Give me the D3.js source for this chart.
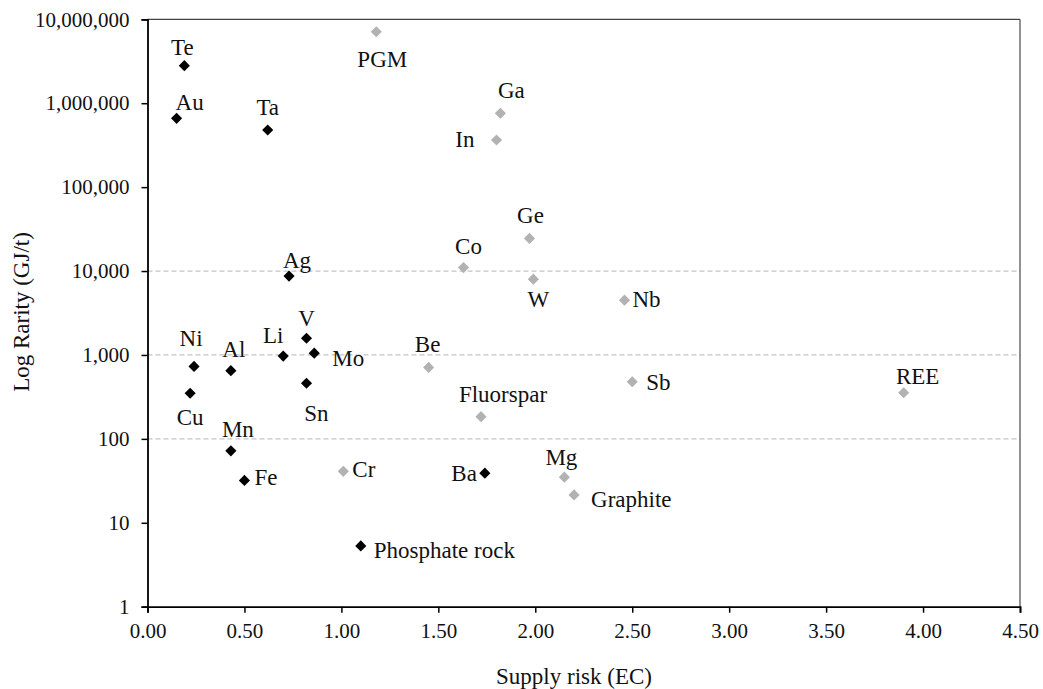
<!DOCTYPE html>
<html>
<head>
<meta charset="utf-8">
<script src="https://cdn.jsdelivr.net/npm/d3@7"></script>
<style>
  body { margin: 0; background: #fff; }
  text { font-family: "Liberation Serif", "Times New Roman", serif; }
</style>
</head>
<body>
<div id="chart"></div>
<script>
// Raw materials: supply risk vs rarity
var names = ["Te", "Au", "Ta", "Ag", "Ni", "Al", "Cu", "Li", "V", "Mo", "Sn", "Mn", "Fe", "Ba", "Phosphate rock",
  "PGM", "Ga", "In", "Ge", "Co", "W", "Nb", "Be", "Sb", "Fluorspar", "REE", "Cr", "Mg", "Graphite"];
var supplyRisk = [0.19, 0.15, 0.62, 0.73, 0.24, 0.43, 0.22, 0.70, 0.82, 0.86, 0.82, 0.43, 0.50, 1.74, 1.10,
  1.18, 1.82, 1.80, 1.97, 1.63, 1.99, 2.46, 1.45, 2.50, 1.72, 3.90, 1.01, 2.15, 2.20];
var rarity = [2800000, 660000, 480000, 8700, 730, 650, 350, 970, 1580, 1050, 460, 72, 32, 39, 5.3,
  7100000, 760000, 365000, 24500, 11000, 8000, 4500, 710, 480, 184, 355, 41, 35, 21.5];
var group = ["a", "a", "a", "a", "a", "a", "a", "a", "a", "a", "a", "a", "a", "a", "a",
  "b", "b", "b", "b", "b", "b", "b", "b", "b", "b", "b", "b", "b", "b"];
var yTicks = [1, 10, 100, 1000, 10000, 100000, 1000000, 10000000];
var xTicks = [0, 0.5, 1, 1.5, 2, 2.5, 3, 3.5, 4, 4.5];
var gridValues = [100, 1000, 10000];

// label placement next to each marker: [dx, dy, anchor]
var labelPlacement = [
  [-2, -11, "middle"], [13, -8, "middle"], [0, -15, "middle"], [8, -8, "middle"], [-3, -20, "middle"],
  [3, -14, "middle"], [0, 32, "middle"], [-10, -13, "middle"], [0, -12, "middle"], [18, 13, "start"],
  [10, 38, "middle"], [7, -14, "middle"], [10, 5, "start"], [-8, 8, "end"], [13, 12, "start"],
  [6, 35, "middle"], [11, -15, "middle"], [-22, 7, "end"], [1, -15, "middle"], [5, -14, "middle"],
  [5, 28, "middle"], [8, 7, "start"], [-1, -15, "middle"], [14, 8, "start"], [22, -15, "middle"],
  [14, -9, "middle"], [9, 6, "start"], [-3, -12, "middle"], [17, 12, "start"]
];

var colors = { a: "#000000", b: "#b2b2b2" };

var width = 1043, height = 689;
var margin = { top: 19.3, right: 23, bottom: 82.3, left: 147.5 };
var w = width - margin.left - margin.right;
var h = height - margin.top - margin.bottom;

var svg = d3.select("#chart").append("svg")
  .attr("width", width)
  .attr("height", height);

var g = svg.append("g")
  .attr("transform", `translate(${margin.left}, ${margin.top})`);

var x = d3.scaleLinear().domain([0, 4.5]).range([0, w]);
var y = d3.scaleLog().domain([1, 10000000]).range([h, 0]);

// dashed reference lines
g.selectAll(".grid")
  .data(gridValues)
  .enter()
  .append("line")
  .attr("x1", 0)
  .attr("x2", w)
  .attr("y1", d => y(d))
  .attr("y2", d => y(d))
  .attr("stroke", "#c4c4c4")
  .attr("stroke-width", 1.2)
  .attr("stroke-dasharray", "5,3");

// top and right frame
g.append("line").attr("x1", 0).attr("x2", w).attr("y1", 0).attr("y2", 0)
  .attr("stroke", "#444").attr("stroke-width", 1.3);
g.append("line").attr("x1", w).attr("x2", w).attr("y1", 0).attr("y2", h)
  .attr("stroke", "#555").attr("stroke-width", 1.3);

var bottomAxis = d3.axisBottom(x).tickValues(xTicks).tickFormat(d3.format(".2f")).tickSize(6).tickPadding(10);
var leftAxis = d3.axisLeft(y).tickValues(yTicks).tickFormat(d3.format(",")).tickSize(6).tickPadding(12);

var xAxisG = g.append("g")
  .attr("transform", `translate(0, ${h})`)
  .call(bottomAxis);

var yAxisG = g.append("g")
  .call(leftAxis);

[xAxisG, yAxisG].forEach(function(a) {
  a.select(".domain").attr("stroke", "#000").attr("stroke-width", 1.8);
  a.selectAll(".tick line").attr("stroke", "#000").attr("stroke-width", 1.5);
  a.selectAll(".tick text")
    .attr("fill", "#111")
    .style("font-family", "'Liberation Serif', 'Times New Roman', serif")
    .style("font-size", "21px");
});

// markers
var idx = d3.range(names.length);
var diamond = d3.symbol().type(d3.symbolSquare).size(62);

g.selectAll(".pt")
  .data(idx)
  .enter()
  .append("path")
  .attr("d", diamond)
  .attr("transform", i => `translate(${x(supplyRisk[i])}, ${y(rarity[i])}) rotate(45)`)
  .attr("fill", i => colors[group[i]]);

// point labels
g.selectAll(".lbl")
  .data(idx)
  .enter()
  .append("text")
  .attr("x", i => x(supplyRisk[i]) + labelPlacement[i][0])
  .attr("y", i => y(rarity[i]) + labelPlacement[i][1])
  .attr("text-anchor", i => labelPlacement[i][2])
  .attr("fill", "#111")
  .style("font-size", "23px")
  .text(i => names[i]);

// axis titles
svg.append("text")
  .attr("x", 574)
  .attr("y", 684)
  .attr("text-anchor", "middle")
  .attr("fill", "#111")
  .style("font-size", "23px")
  .text("Supply risk (EC)");

svg.append("text")
  .attr("transform", "rotate(-90)")
  .attr("x", -312)
  .attr("y", 29)
  .attr("text-anchor", "middle")
  .attr("fill", "#111")
  .style("font-size", "23px")
  .text("Log Rarity (GJ/t)");
</script>
</body>
</html>
